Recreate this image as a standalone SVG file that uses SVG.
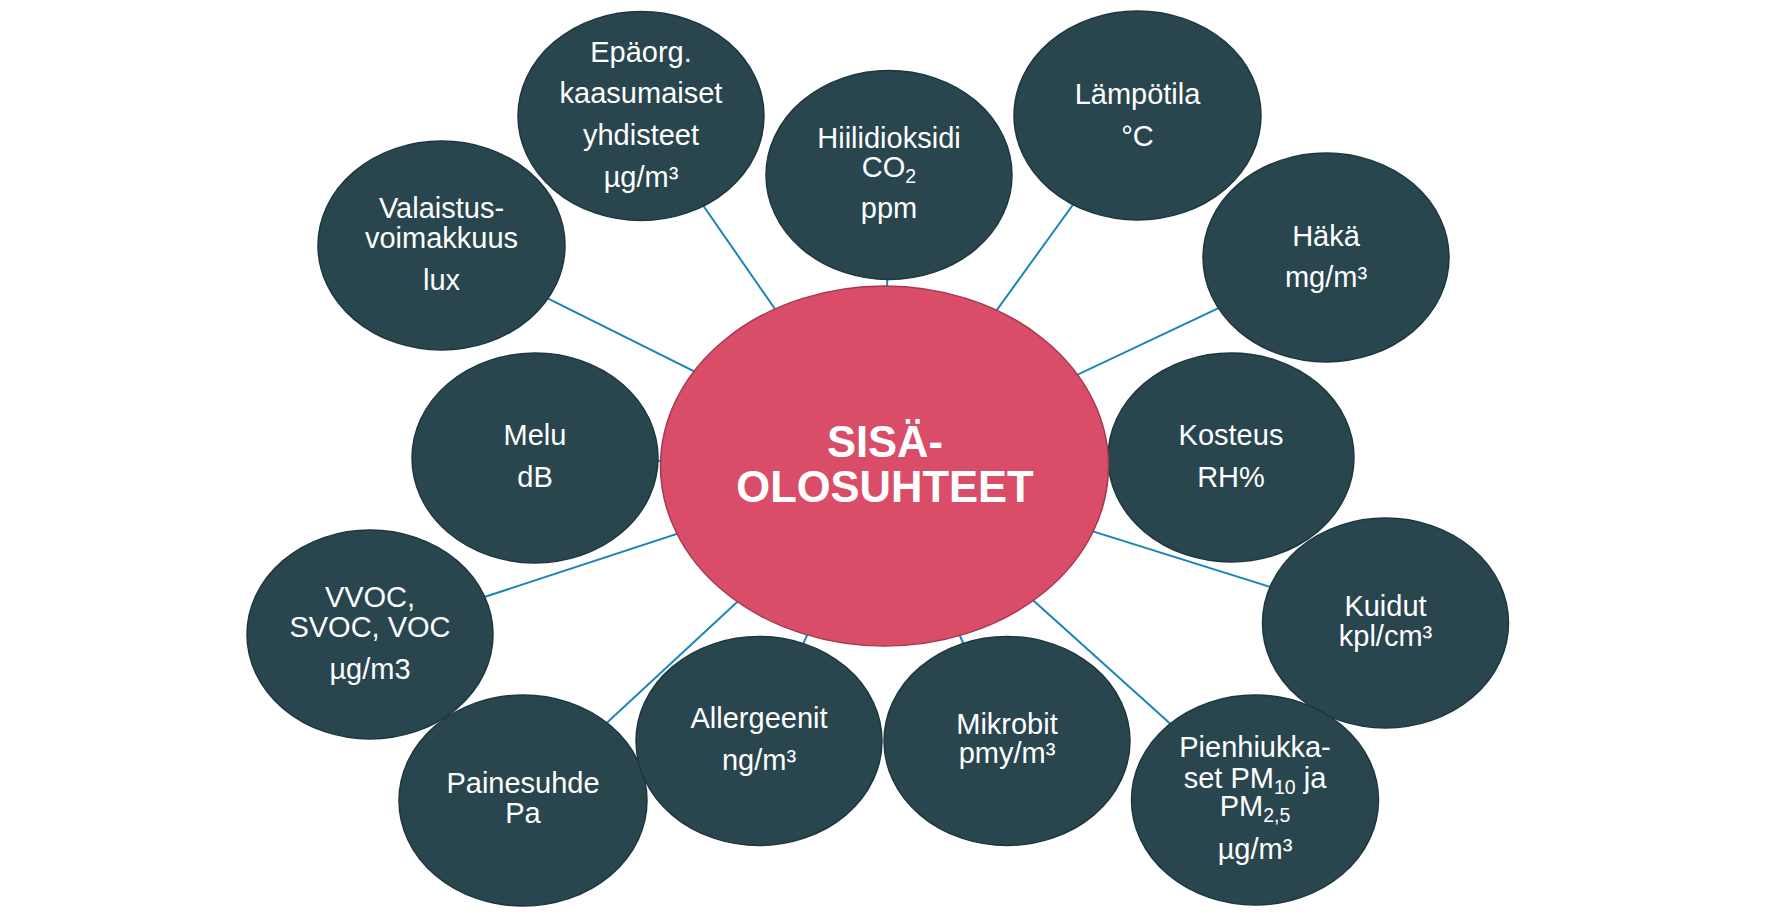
<svg xmlns="http://www.w3.org/2000/svg" width="1770" height="921" viewBox="0 0 1770 921">
<style>
.sat{fill:#29464F;stroke:#1E3640;stroke-width:1.5}
.hub{fill:#DA4D69;stroke:#A33A52;stroke-width:1.5}
.t{font-family:"Liberation Sans",Arial,sans-serif;font-size:29px;fill:#FFFFFF;text-anchor:middle}
.h{font-family:"Liberation Sans",Arial,sans-serif;font-size:43.5px;font-weight:bold;fill:#FFFFFF;text-anchor:middle}
.sub{font-size:19.5px}
#connectors line{stroke:#1A86B8;stroke-width:2}
</style>
<rect width="1770" height="921" fill="#FFFFFF"/>
<g id="connectors">
<line x1="884" y1="466" x2="641" y2="116"/>
<line x1="884" y1="466" x2="889" y2="175"/>
<line x1="884" y1="466" x2="1137.5" y2="115.5"/>
<line x1="884" y1="466" x2="1326" y2="257.5"/>
<line x1="884" y1="466" x2="441.5" y2="245.5"/>
<line x1="884" y1="466" x2="535" y2="458"/>
<line x1="884" y1="466" x2="370" y2="634.5"/>
<line x1="884" y1="466" x2="523" y2="800.5"/>
<line x1="884" y1="466" x2="759" y2="741"/>
<line x1="884" y1="466" x2="1007" y2="741"/>
<line x1="884" y1="466" x2="1255" y2="800"/>
<line x1="884" y1="466" x2="1385.5" y2="623"/>
</g>
<g id="n-epaorg">
<ellipse class="sat" cx="641" cy="116" rx="123" ry="104.5"/>
<text class="t" x="641" y="62">Epäorg.</text>
<text class="t" x="641" y="103">kaasumaiset</text>
<text class="t" x="641" y="145">yhdisteet</text>
<text class="t" x="641" y="187">µg/m³</text>
</g>
<g id="n-co2">
<ellipse class="sat" cx="889" cy="175" rx="123" ry="104.5"/>
<text class="t" x="889" y="148">Hiilidioksidi</text>
<text class="t" x="889" y="177">CO<tspan class="sub" dy="6">2</tspan></text>
<text class="t" x="889" y="218">ppm</text>
</g>
<g id="n-lampotila">
<ellipse class="sat" cx="1137.5" cy="115.5" rx="123.5" ry="104.5"/>
<text class="t" x="1137.5" y="104">Lämpötila</text>
<text class="t" x="1137.5" y="146">°C</text>
</g>
<g id="n-haka">
<ellipse class="sat" cx="1326" cy="257.5" rx="123" ry="104.5"/>
<text class="t" x="1326" y="246">Häkä</text>
<text class="t" x="1326" y="287">mg/m³</text>
</g>
<g id="n-valaistus">
<ellipse class="sat" cx="441.5" cy="245.5" rx="123.5" ry="104.5"/>
<text class="t" x="441.5" y="218">Valaistus-</text>
<text class="t" x="441.5" y="248">voimakkuus</text>
<text class="t" x="441.5" y="290">lux</text>
</g>
<g id="n-melu">
<ellipse class="sat" cx="535" cy="458" rx="123" ry="105"/>
<text class="t" x="535" y="445">Melu</text>
<text class="t" x="535" y="487">dB</text>
</g>
<g id="n-kosteus">
<ellipse class="sat" cx="1231" cy="457.5" rx="123" ry="104.5"/>
<text class="t" x="1231" y="445">Kosteus</text>
<text class="t" x="1231" y="487">RH%</text>
</g>
<g id="n-vvoc">
<ellipse class="sat" cx="370" cy="634.5" rx="123" ry="104.5"/>
<text class="t" x="370" y="607">VVOC,</text>
<text class="t" x="370" y="637">SVOC, VOC</text>
<text class="t" x="370" y="679">µg/m3</text>
</g>
<g id="n-painesuhde">
<ellipse class="sat" cx="523" cy="800.5" rx="124" ry="105.5"/>
<text class="t" x="523" y="793">Painesuhde</text>
<text class="t" x="523" y="823">Pa</text>
</g>
<g id="n-allergeenit">
<ellipse class="sat" cx="759" cy="741" rx="123" ry="104.5"/>
<text class="t" x="759" y="728">Allergeenit</text>
<text class="t" x="759" y="770">ng/m³</text>
</g>
<g id="n-mikrobit">
<ellipse class="sat" cx="1007" cy="741" rx="123" ry="104.5"/>
<text class="t" x="1007" y="734">Mikrobit</text>
<text class="t" x="1007" y="763">pmy/m³</text>
</g>
<g id="n-kuidut">
<ellipse class="sat" cx="1385.5" cy="623" rx="123" ry="105"/>
<text class="t" x="1385.5" y="616">Kuidut</text>
<text class="t" x="1385.5" y="646">kpl/cm³</text>
</g>
<g id="n-pienhiukkaset">
<ellipse class="sat" cx="1255" cy="800" rx="123.5" ry="105"/>
<text class="t" x="1255" y="757">Pienhiukka-</text>
<text class="t" x="1255" y="788">set PM<tspan class="sub" dy="6">10</tspan><tspan dy="-6"> ja</tspan></text>
<text class="t" x="1255" y="816">PM<tspan class="sub" dy="6">2,5</tspan></text>
<text class="t" x="1255" y="859">µg/m³</text>
</g>
<g id="n-center">
<ellipse class="hub" cx="884.5" cy="466" rx="224" ry="180"/>
<text class="h" x="885" y="457">SISÄ-</text>
<text class="h" x="885" y="502">OLOSUHTEET</text>
</g>
</svg>
